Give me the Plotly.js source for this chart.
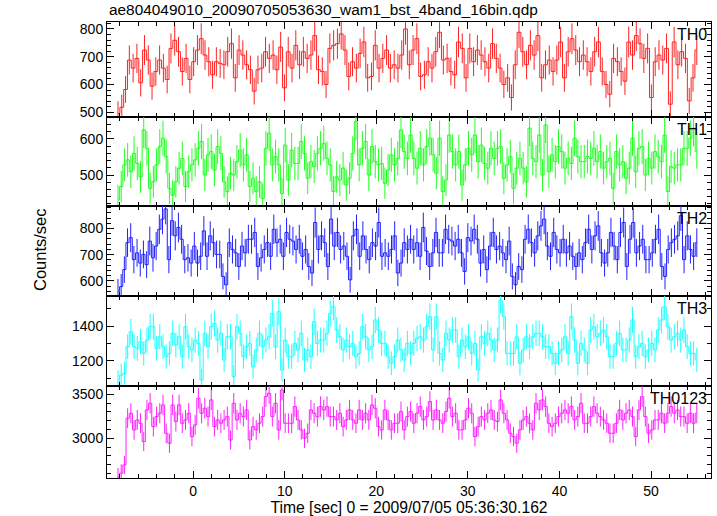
<!DOCTYPE html>
<html>
<head>
<meta charset="utf-8">
<script src="https://cdn.plot.ly/plotly-3.0.1.min.js"></script>
<style>html,body{margin:0;padding:0;background:#fff;}#chart{width:717px;height:516px;}</style>
</head>
<body>
<div id="chart"></div>
<script>
// ---- data (counts/sec, evenly spaced time bins) ----
const fileTitle = "ae804049010_20090705053630_wam1_bst_4band_16bin.qdp";
const xTitle = "Time [sec] 0 = 2009/07/05 05:36:30.162";
const yTitle = "Counts/sec";
const bandNames = ["TH0", "TH1", "TH2", "TH3", "TH0123"];
const tStart = -8.2;
const tEnd = 55.0;
const binSec = 0.25;

const th0 = [495,518,582,688,659,694,606,724,688,594,647,688,659,618,730,759,718,647,694,618,682,724,765,706,682,635,682,676,671,718,747,624,724,706,671,653,576,653,659,718,694,706,653,735,588,718,659,741,671,718,694,706,776,653,647,600,730,741,747,782,724,629,682,659,712,753,624,629,741,659,694,724,659,671,
659,706,800,671,724,765,629,635,682,659,718,788,688,694,647,635,753,730,624,730,682,724,706,682,659,747,694,659,600,624,553,671,788,718,671,741,706,776,624,671,688,647,688,753,624,718,765,724,682,706,682,647,718,753,647,600,565,694,682,647,612,753,706,776,747,694,730,553,682,706,688,730,529,753,671,718,694,541,624,724];

const th1 = [431,468,528,542,509,560,532,495,625,574,463,481,528,579,602,551,463,444,481,519,546,468,509,528,542,574,593,500,556,565,514,579,560,481,454,505,500,537,569,528,556,468,491,454,481,435,574,616,528,551,528,449,583,486,569,532,532,593,560,491,537,523,560,574,588,546,528,454,495,486,519,472,491,560,648,528,574,593,500,579,537,528,532,477,514,556,528,546,625,565,546,
611,546,519,574,528,579,602,556,505,602,454,486,611,565,528,565,472,528,574,556,611,537,583,532,519,574,546,574,579,491,528,551,463,519,546,519,481,630,546,537,611,500,639,509,556,537,579,565,519,546,532,602,551,537,537,551,546,574,537,565,519,537,546,463,565,528,537,491,519,602,509,574,579,500,546,519,565,551,537,611,454,523,519,528,528,574,574,602,630,565];

const th2 = [560,578,643,746,765,681,707,668,701,662,752,688,733,797,836,875,681,830,772,804,759,681,688,668,733,668,694,791,694,772,746,701,701,617,585,746,720,707,655,733,707,759,759,785,655,688,720,746,694,797,746,759,694,785,759,752,720,759,694,720,655,630,823,720,772,746,655,836,733,785,720,733,694,604,772,797,694,772,720,681,746,733,823,694,707,694,720,772,630,668,746,720,759,
720,746,694,804,714,655,707,785,707,707,797,759,752,733,759,707,636,765,752,797,759,668,720,643,733,785,720,733,707,681,752,617,585,655,643,759,797,746,707,772,810,836,733,694,785,720,707,759,707,733,694,655,707,681,746,797,720,772,810,707,668,707,785,733,681,785,823,655,759,823,707,733,759,681,681,707,759,797,655,617,720,746,759,772,849,681,772,720,694,746];

const th3 = [1080,1117,1127,1281,1367,1281,1271,1310,1242,1319,1396,1396,1271,1338,1281,1223,1242,1358,1290,1338,1223,1396,1281,1262,1319,1300,1088,1358,1281,1396,1415,1319,1358,1204,1338,1338,1108,1396,1358,1223,1281,1300,1165,1262,1358,1281,1319,1338,1473,1281,1483,1146,1319,1223,1223,1300,1262,1358,1204,1262,1223,1425,1300,1319,1319,1358,1473,1512,1377,1338,1262,1319,1281,1300,1223,1242,1396,1338,1262,1281,1435,1377,1300,1300,1223,1185,1223,1319,1262,1204,1300,
1242,1300,1329,1338,1319,1396,1454,1262,1454,1242,1204,1358,1319,1377,1377,1223,1319,1281,1338,1242,1300,1146,1338,1300,1358,1319,1262,1319,1550,1454,1242,1242,1242,1338,1185,1262,1338,1281,1338,1358,1358,1338,1281,1281,1242,1185,1242,1262,1338,1242,1454,1319,1185,1300,1262,1185,1377,1396,1338,1358,1377,1338,1223,1223,1300,1358,1262,1262,1319,1435,1223,1281,1300,1223,1262,1300,1262,1377,1435,1512,1396,1319,1338,1358,1319,1377,1281,1242,1242,1204];

const th0123 = [2560,2601,2696,3228,3285,3095,3209,3171,2962,3323,3399,3133,3247,3285,3380,3057,2943,3380,3190,3380,3171,3209,3285,3019,3152,3456,3285,3342,3247,3437,3133,3209,3171,3209,3247,2981,3399,3209,3285,3247,3323,2981,3133,3095,3171,3247,3475,3513,3247,3399,3095,3551,3171,3171,3171,3361,3209,3095,3000,3057,3323,3285,3247,3361,3323,3361,3247,3247,3209,3285,3133,3209,3323,3209,3171,3323,3209,3285,3209,3380,3342,3133,3095,3323,3209,3095,3171,3171,3304,3095,3247,
3304,3171,3285,3361,3209,3247,3418,3209,3323,3209,3171,3304,3456,3247,3285,3095,3095,3209,3342,3285,3019,3133,3247,3209,3285,3323,3209,3190,3437,3285,3209,3057,3019,2943,3095,3209,3247,3171,3095,3399,3323,3437,3361,3171,3133,3171,3247,3285,3323,3285,3361,3209,3247,3399,3171,3171,3247,3361,3285,3247,3209,3171,3057,3057,3171,3323,3209,3285,3323,3247,3019,3323,3475,3247,3057,3095,3209,3209,3285,3171,3285,3361,3285,3323,3247,3247,3171,3285,3171,3285];

const series = [th0, th1, th2, th3, th0123];
const colors = ["#ff2020", "#20ff20", "#2020ff", "#20ffff", "#ff20ff"];
const yRanges = [[483, 825], [414, 661], [542, 886], [1054, 1573], [2547, 3596]];
const yDtick = [100, 100, 100, 200, 500];
const yMinor = [20, 20, 20, 100, 100];
const domains = [[0.7917, 1.0], [0.5965, 0.7917], [0.399, 0.5965], [0.2018, 0.399], [0.0, 0.2018]];
const xRange = [-9.4, 56.55];

const FONT = "Liberation Sans, Arial, Helvetica, sans-serif";

function timeGrid(n) {
  const dt = (tEnd - tStart) / (n - 1);
  const t = [];
  for (let i = 0; i < n; i++) t.push(tStart + i * dt);
  return t;
}

const traces = [];
const layout = {
  width: 717, height: 516,
  margin: {l: 107, r: 6, t: 22, b: 38},
  paper_bgcolor: "#fff", plot_bgcolor: "#fff",
  showlegend: false,
  font: {family: FONT, size: 14, color: "#000"},
  annotations: []
};

series.forEach((vals, i) => {
  const k = i + 1;
  const xa = k === 1 ? "x" : "x" + k;
  const ya = k === 1 ? "y" : "y" + k;
  const t = timeGrid(vals.length);
  const err = vals.map(v => Math.sqrt(v * binSec) / binSec);
  traces.push({
    x: t, y: vals, type: "scatter", mode: "lines",
    xaxis: xa, yaxis: ya,
    line: {shape: "hvh", width: 1, color: colors[i]},
    error_y: {type: "data", array: err, visible: true, width: 0, thickness: 1, color: colors[i]},
    hoverinfo: "skip", cliponaxis: true
  });
  const common = {
    ticks: "inside", mirror: "allticks", showline: true, linecolor: "#000", linewidth: 1,
    tickcolor: "#000", tickwidth: 1, showgrid: false, zeroline: false,
    tickfont: {family: FONT, size: 14, color: "#000"}
  };
  layout[k === 1 ? "xaxis" : "xaxis" + k] = Object.assign({}, common, {
    domain: [0, 1], range: xRange, anchor: ya,
    tick0: 0, dtick: 10, ticklen: 7,
    minor: {ticks: "inside", ticklen: 4, tick0: 0, dtick: 2, tickcolor: "#000", showgrid: false},
    showticklabels: k === 5,
    matches: k === 1 ? undefined : "x"
  });
  layout[k === 1 ? "yaxis" : "yaxis" + k] = Object.assign({}, common, {
    domain: domains[i], range: yRanges[i], anchor: xa,
    tick0: 0, dtick: yDtick[i], ticklen: 7,
    minor: {ticks: "inside", ticklen: 4, tick0: 0, dtick: yMinor[i], tickcolor: "#000", showgrid: false}
  });
  layout.annotations.push({
    text: bandNames[i], xref: "paper", x: 1, xanchor: "right", xshift: -2,
    yref: ya + " domain", y: 1, yanchor: "top", yshift: -2,
    showarrow: false, font: {family: FONT, size: 16, color: "#000"}
  });
});

layout.xaxis5.title = {text: xTitle, font: {family: FONT, size: 15.7, color: "#000"}, standoff: 4};

layout.annotations.push({
  text: fileTitle, xref: "paper", x: 0, xanchor: "left",
  yref: "paper", y: 1, yanchor: "bottom", yshift: 2,
  showarrow: false, font: {family: FONT, size: 15.4, color: "#000"}
});
layout.annotations.push({
  text: yTitle, xref: "paper", x: 0, xanchor: "center", xshift: -67,
  yref: "paper", y: 0.5, yanchor: "middle", textangle: -90,
  showarrow: false, font: {family: FONT, size: 16.5, color: "#000"}
});

Plotly.newPlot("chart", traces, layout, {staticPlot: true, displayModeBar: false});
</script>
</body>
</html>
